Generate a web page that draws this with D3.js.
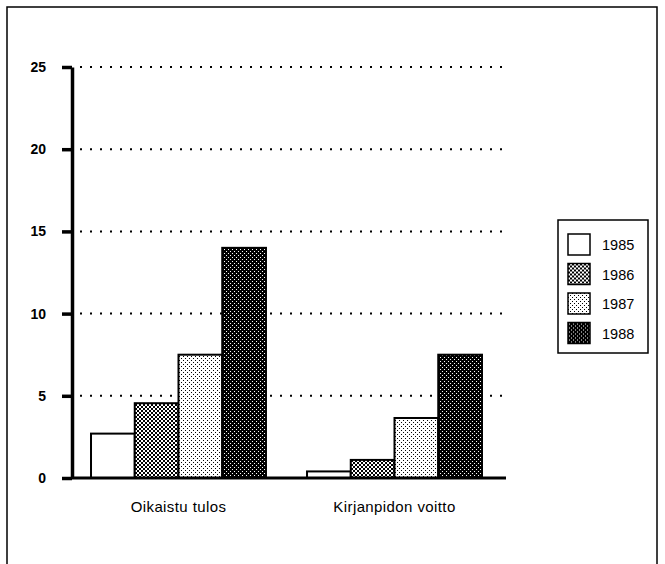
<!DOCTYPE html>
<html>
<head>
<meta charset="utf-8">
<script src="https://d3js.org/d3.v7.min.js"></script>
<style>
body { margin: 0; background: #fff; }
text { font-family: "Liberation Sans", Arial, sans-serif; fill: #000; }
</style>
</head>
<body>
<div id="my_dataviz"></div>
<script>
// Data
var groups = ["Oikaistu tulos", "Kirjanpidon voitto"];
var years = ["1985", "1986", "1987", "1988"];
var val1985 = [2.7, 0.4];
var val1986 = [4.55, 1.1];
var val1987 = [7.5, 3.65];
var val1988 = [14.0, 7.5];
var yTicks = [0, 5, 10, 15, 20, 25];

var series = [val1985, val1986, val1987, val1988];
var data = groups.map(function(g, i) {
  var row = {group: g};
  years.forEach(function(y, j) { row[y] = series[j][i]; });
  return row;
});

var svg = d3.select("#my_dataviz")
  .append("svg")
  .attr("width", 665)
  .attr("height", 564);

// fill patterns
var defs = svg.append("defs");
function pat(id, bg, fg, size, dots) {
  var p = defs.append("pattern")
    .attr("id", id)
    .attr("patternUnits", "userSpaceOnUse")
    .attr("width", size).attr("height", size);
  p.append("rect").attr("width", size).attr("height", size).attr("fill", bg);
  dots.forEach(function(d) {
    p.append("rect").attr("x", d[0]).attr("y", d[1]).attr("width", d[2]).attr("height", d[2]).attr("fill", fg);
  });
}
pat("p1985", "#fff", "#fff", 4, []);
pat("p1986", "#fff", "#000", 4, [[0, 0, 2], [2, 2, 2]]);
pat("p1987", "#fff", "#000", 4, [[0, 0, 1], [2, 2, 1]]);
pat("p1988", "#000", "#fff", 4, [[1, 1, 1], [3, 3, 1]]);

// frame
svg.append("rect")
  .attr("x", 7).attr("y", 7)
  .attr("width", 650).attr("height", 600)
  .attr("fill", "none").attr("stroke", "#000").attr("stroke-width", 1.5);

var y = d3.scaleLinear().domain([0, 25]).range([478, 67]);

var x = d3.scaleBand()
  .domain(groups)
  .range([72, 501])
  .paddingInner(0.19)
  .paddingOuter(0.088);

var xSub = d3.scaleBand()
  .domain(years)
  .range([0, x.bandwidth()])
  .padding(0);

// dotted grid
svg.append("g")
  .selectAll("line")
  .data(yTicks.filter(function(t) { return t > 0; }))
  .enter().append("line")
  .attr("x1", 80).attr("x2", 506)
  .attr("y1", function(d) { return y(d); })
  .attr("y2", function(d) { return y(d); })
  .attr("stroke", "#000")
  .attr("stroke-width", 2)
  .attr("stroke-dasharray", "2,8");

// bars
svg.append("g")
  .selectAll("g")
  .data(data)
  .enter().append("g")
  .attr("transform", function(d) { return "translate(" + x(d.group) + ",0)"; })
  .selectAll("rect")
  .data(function(d) { return years.map(function(k) { return {key: k, value: d[k]}; }); })
  .enter().append("rect")
  .attr("x", function(d) { return xSub(d.key); })
  .attr("y", function(d) { return y(d.value); })
  .attr("width", xSub.bandwidth())
  .attr("height", function(d) { return y(0) - y(d.value); })
  .attr("fill", function(d) { return "url(#p" + d.key + ")"; })
  .attr("stroke", "#000")
  .attr("stroke-width", 2);

// y axis
var yAxis = svg.append("g")
  .attr("transform", "translate(72,0)")
  .call(d3.axisLeft(y).tickValues(yTicks).tickSize(10).tickSizeOuter(0).tickPadding(16));
yAxis.select(".domain").attr("stroke-width", 3.5);
yAxis.selectAll(".tick line").attr("stroke-width", 3.5);
yAxis.selectAll(".tick text")
  .style("font-family", "'Liberation Sans', Arial, sans-serif")
  .style("font-size", "14px").style("font-weight", "bold");

// x axis
var xAxis = svg.append("g")
  .attr("transform", "translate(0,478)")
  .call(d3.axisBottom(x).tickSize(0).tickPadding(23));
xAxis.select(".domain").attr("d", "M72,0H506").attr("stroke-width", 3);
xAxis.selectAll(".tick text")
  .style("font-family", "'Liberation Sans', Arial, sans-serif")
  .style("font-size", "15px")
  .style("letter-spacing", "0.4px");

// legend
svg.append("rect")
  .attr("x", 558).attr("y", 220)
  .attr("width", 90).attr("height", 133)
  .attr("fill", "#fff").attr("stroke", "#000").attr("stroke-width", 1.5);

var legend = svg.selectAll(".legend")
  .data(years)
  .enter().append("g")
  .attr("transform", function(d, i) { return "translate(568," + (234 + i * 29.5) + ")"; });
legend.append("rect")
  .attr("width", 22).attr("height", 21)
  .attr("fill", function(d) { return "url(#p" + d + ")"; })
  .attr("stroke", "#000").attr("stroke-width", 1.5);
legend.append("text")
  .attr("x", 34).attr("y", 16)
  .style("font-size", "14.5px")
  .text(function(d) { return d; });
</script>
</body>
</html>
